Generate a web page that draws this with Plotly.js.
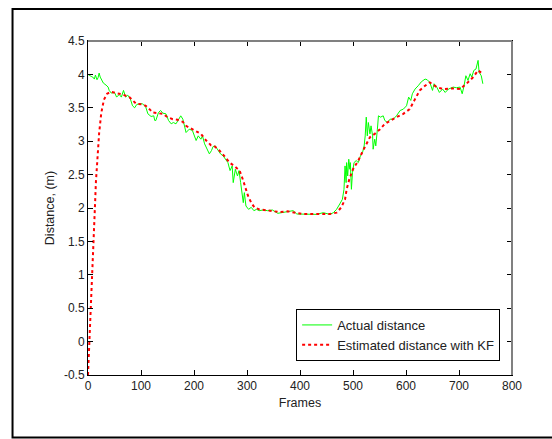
<!DOCTYPE html>
<html>
<head>
<meta charset="utf-8">
<script src="https://cdn.plot.ly/plotly-3.0.1.min.js"></script>
<style>html,body{margin:0;padding:0;background:#fff;}#chart{width:552px;height:439px;}</style>
</head>
<body>
<div id="chart"></div>
<script>
// Actual distance (green) — frames and values
var actualFrames = [0,3,6,9,12,14,17,19,21,23,26,29,34,38,40,44,50,54,59,63,67,71,75,80,84,88,92,97,103,109,113,119,124,126,128,133,137,141,147,152,157,161,166,171,175,179,182,185,191,197,204,208,213,216,220,224,229,233,236,240,245,250,255,260,264,268,272,274,278,282,285,288,290,293,295,298,303,308,313,318,323,330,339,348,358,367,377,387,394,406,419,431,444,456,463,469,475,480,483,485,487,488,490,492,494,495,497,499,502,506,510,514,518,521,523,525,527,529,532,534,537,538,541,543,546,548,552,557,560,565,570,576,582,589,595,601,605,609,612,617,623,629,636,640,645,650,653,658,663,669,674,680,689,695,702,706,709,713,717,721,724,728,732,736,738,742,745];
var actualDist   = [4.00,3.98,3.97,3.96,3.93,3.99,3.92,3.95,4.02,3.96,3.90,3.87,3.84,3.81,3.76,3.72,3.73,3.66,3.70,3.66,3.76,3.66,3.69,3.63,3.53,3.50,3.55,3.56,3.56,3.51,3.41,3.37,3.38,3.31,3.31,3.43,3.46,3.42,3.41,3.31,3.26,3.28,3.26,3.33,3.38,3.33,3.21,3.13,3.18,3.16,3.01,3.08,3.03,3.08,2.96,2.88,2.81,2.86,2.92,2.93,2.86,2.81,2.78,2.73,2.68,2.56,2.63,2.38,2.58,2.48,2.56,2.38,2.23,2.08,2.23,2.03,1.98,2.01,1.96,1.98,1.96,1.97,1.96,1.97,1.92,1.93,1.95,1.96,1.91,1.905,1.905,1.905,1.93,1.905,1.93,1.98,2.06,2.13,2.28,2.63,2.38,2.68,2.48,2.73,2.58,2.68,2.28,2.53,2.68,2.71,2.68,2.78,2.83,2.93,3.08,3.36,3.08,3.28,3.11,3.23,3.08,2.88,3.03,2.93,3.18,3.38,3.36,3.38,3.31,3.28,3.33,3.33,3.38,3.46,3.48,3.53,3.66,3.61,3.71,3.78,3.83,3.89,3.93,3.92,3.88,3.76,3.86,3.81,3.73,3.78,3.73,3.78,3.81,3.80,3.81,3.71,3.81,3.98,3.91,4.01,3.96,4.06,4.08,4.21,4.03,3.98,3.86];

// Estimated distance with KF (red dotted)
var kfFrames = [0,2,3,5,8,10,13,15,18,21,25,30,36,43,53,65,78,84,91,103,109,116,122,131,141,150,160,169,179,185,194,204,213,223,232,238,248,257,267,276,286,292,297,302,308,314,323,336,348,361,377,406,456,469,478,485,488,493,500,510,519,526,532,541,551,560,570,582,595,607,617,626,636,645,658,670,689,702,714,727,736,741,746];
var kfDist   = [-0.50,-0.15,0.05,0.45,1.05,1.45,2.00,2.40,2.80,3.12,3.42,3.62,3.71,3.74,3.72,3.70,3.66,3.61,3.56,3.55,3.53,3.48,3.43,3.42,3.41,3.36,3.33,3.32,3.29,3.23,3.19,3.14,3.11,3.01,2.94,2.93,2.86,2.78,2.68,2.63,2.56,2.43,2.31,2.18,2.08,2.01,1.98,1.97,1.96,1.94,1.95,1.91,1.91,1.93,2.01,2.13,2.28,2.43,2.58,2.71,2.86,2.98,3.06,3.11,3.18,3.26,3.31,3.36,3.41,3.48,3.63,3.76,3.83,3.88,3.81,3.78,3.79,3.78,3.86,3.96,4.06,4.03,4.00];

var xTickVals = [0,100,200,300,400,500,600,700,800];
var yTickVals = [-0.5,0,0.5,1,1.5,2,2.5,3,3.5,4,4.5];

var FONT = 'Arial, "Liberation Sans", sans-serif';

var traces = [
  {x: actualFrames, y: actualDist, type: 'scatter', mode: 'lines', name: 'Actual distance',
   line: {color: '#00ff00', width: 1}},
  {x: kfFrames, y: kfDist, type: 'scatter', mode: 'lines', name: 'Estimated distance with KF',
   line: {color: '#ff0000', width: 2, dash: 'dot'}}
];

var layout = {
  width: 552, height: 439,
  margin: {l: 88, r: 40, t: 41, b: 64, pad: 0},
  paper_bgcolor: '#ffffff', plot_bgcolor: '#ffffff',
  font: {family: FONT, size: 12, color: '#222'},
  showlegend: true,
  legend: {x: 0.972, xanchor: 'right', y: 0.042, yanchor: 'bottom',
           bgcolor: '#ffffff', bordercolor: '#000', borderwidth: 1,
           font: {family: FONT, size: 13, color: '#222'}, itemwidth: 30, tracegroupgap: 0},
  xaxis: {range: [0, 800], tickvals: xTickVals, ticktext: xTickVals.map(String),
          showgrid: false, zeroline: false, showline: true, linecolor: '#000', linewidth: 1,
          mirror: 'allticks', ticks: 'inside', ticklen: 5, tickcolor: '#000',
          tickfont: {family: FONT, size: 12, color: '#222'},
          title: {text: 'Frames', font: {family: FONT, size: 12.5, color: '#222'}, standoff: 5},
          automargin: false},
  yaxis: {range: [-0.5, 4.5], tickvals: yTickVals, ticktext: yTickVals.map(String),
          showgrid: false, zeroline: false, showline: true, linecolor: '#000', linewidth: 1,
          mirror: 'allticks', ticks: 'inside', ticklen: 5, tickcolor: '#000',
          tickfont: {family: FONT, size: 12, color: '#222'},
          title: {text: 'Distance, (m)', font: {family: FONT, size: 12.5, color: '#222'}, standoff: 6},
          automargin: false},
  shapes: [
    {type: 'rect', xref: 'paper', yref: 'paper', x0: -0.178, x1: 1.2, y0: -0.187, y1: 1.096,
     line: {color: '#000', width: 2}, fillcolor: 'rgba(0,0,0,0)', layer: 'below'},
    {type: 'line', xref: 'paper', yref: 'paper', x0: 0, x1: 1, y0: 1, y1: 1,
     line: {color: '#808080', width: 2}},
    {type: 'line', xref: 'paper', yref: 'paper', x0: 1, x1: 1, y0: 0, y1: 1,
     line: {color: '#808080', width: 2}}
  ]
};

Plotly.newPlot('chart', traces, layout, {staticPlot: true, displayModeBar: false});
</script>
</body>
</html>
